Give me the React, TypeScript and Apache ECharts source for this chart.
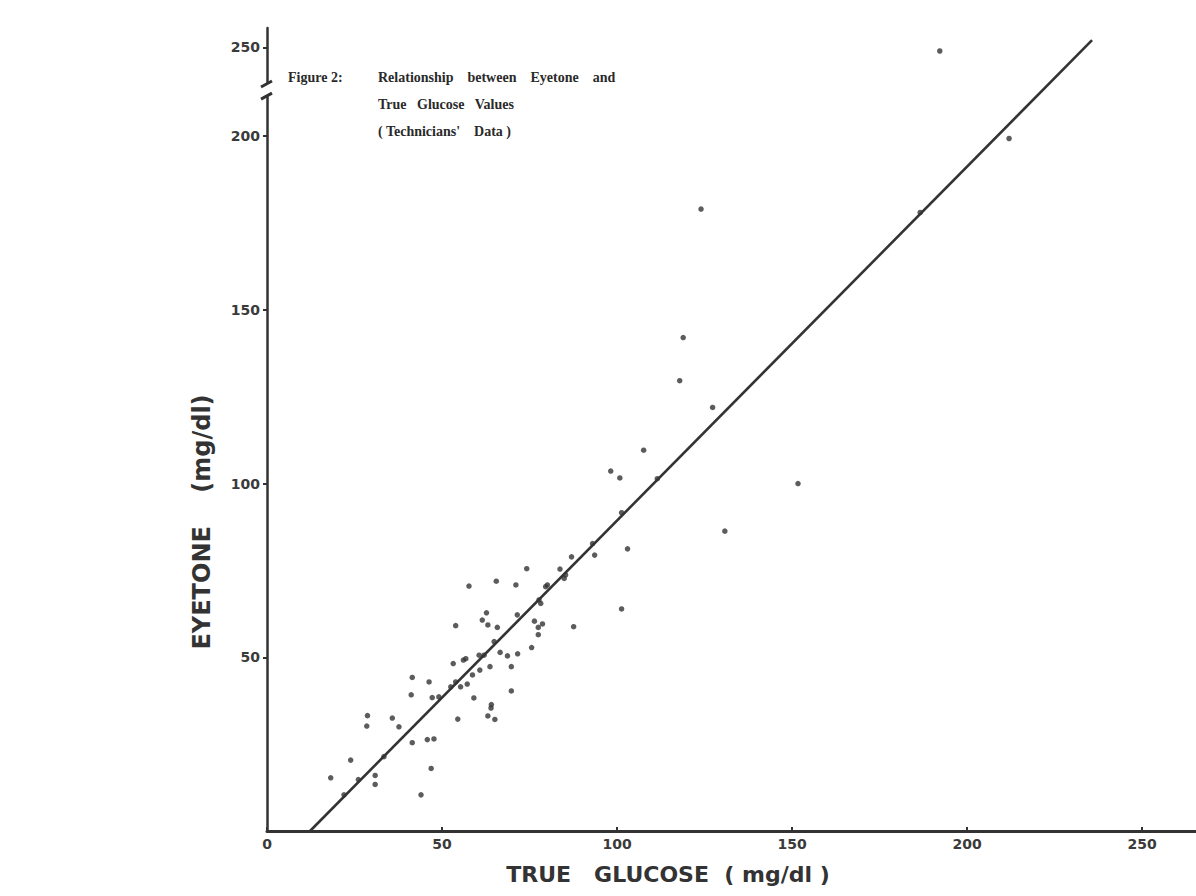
import React, { useEffect, useRef } from "react";
import * as echarts from "echarts";

// True glucose (mg/dl) vs Eyetone (mg/dl)
const POINTS: number[][] = [
  [18.2, 15.3], [23.9, 20.4], [28.7, 33.2], [28.5, 30.2], [30.9, 16.0], [30.9, 13.4],
  [35.8, 32.5], [37.7, 30.0], [41.5, 44.2], [41.2, 39.2], [41.5, 25.4], [45.8, 26.3],
  [47.7, 26.5], [46.9, 18.0], [44.0, 10.4], [46.3, 42.9], [47.2, 38.4], [53.2, 48.2],
  [54.5, 32.2], [53.9, 59.1], [57.7, 70.5], [59.1, 38.3], [60.8, 46.3], [62.7, 62.8],
  [61.5, 60.7], [63.1, 59.3], [63.7, 47.3], [64.1, 36.4], [64.0, 35.4], [63.1, 33.1],
  [65.1, 32.1], [65.5, 71.9], [65.8, 58.6], [66.6, 51.4], [68.7, 50.4], [69.8, 47.3],
  [69.8, 40.3], [71.1, 70.8], [71.6, 51.0], [74.2, 75.5], [75.6, 52.8], [76.4, 60.4],
  [78.7, 59.6], [77.5, 58.6], [77.5, 56.5], [83.7, 75.4], [87.0, 78.9], [87.6, 58.8],
  [93.6, 79.4], [56.8, 49.6], [56.1, 49.2], [55.3, 41.5], [57.2, 42.3], [58.7, 44.9],
  [60.6, 50.6], [62.0, 50.6], [52.5, 41.5], [53.9, 42.9], [49.1, 38.6], [26.1, 14.8],
  [22.0, 10.4], [33.4, 21.4], [64.9, 54.5], [71.5, 62.2], [77.7, 66.5], [78.2, 65.5],
  [80.1, 70.8], [79.6, 70.3], [85.3, 73.7], [84.9, 72.7], [93.0, 82.7],
  [118.9, 142.0], [117.9, 129.6], [127.3, 121.9], [107.6, 109.6], [98.2, 103.6],
  [100.8, 101.6], [151.7, 100.0], [130.8, 86.3], [103.0, 81.2], [101.3, 63.9],
  [111.5, 101.4], [101.3, 91.6], [124.0, 179.0], [192.2, 248.0], [212.0, 199.3],
  [186.6, 178.0],
];

// fitted regression line end points
const FIT_LINE: number[][] = [
  [12.3, 0],
  [235.7, 227.6],
];

const X_TICKS = [0, 50, 100, 150, 200, 250];
const Y_TICKS = [50, 100, 150, 200, 250];

const TITLE_LINES = [
  "Relationship\u00a0\u00a0\u00a0 between\u00a0\u00a0\u00a0 Eyetone\u00a0\u00a0\u00a0 and",
  "True\u00a0\u00a0 Glucose\u00a0\u00a0 Values",
  "( Technicians'\u00a0\u00a0\u00a0 Data )",
];

// broken y axis above 200
const BREAK_FROM = 200;
const BREAK_K = 0.51;
const brk = (v: number) => (v <= BREAK_FROM ? v : BREAK_FROM + (v - BREAK_FROM) * BREAK_K);
const unbrk = (v: number) => (v <= BREAK_FROM + 0.01 ? v : BREAK_FROM + (v - BREAK_FROM) / BREAK_K);

const INK = "#333333";

export default function App() {
  const ref = useRef<HTMLDivElement>(null);
  useEffect(() => {
    if (!ref.current) return;
    const chart = echarts.init(ref.current, null, { renderer: "svg" });
    const yLabelVals = Y_TICKS.map(brk);
    const labelFont = {
      fontFamily: "DejaVu Sans",
      fontSize: 14,
      fontWeight: "bold" as const,
      color: "#3a3a3a",
    };
    chart.setOption({
      animation: false,
      backgroundColor: "#ffffff",
      grid: { left: 267, right: 0, top: 28, bottom: 65 },
      xAxis: {
        type: "value",
        min: 0,
        max: 265.4,
        interval: 50,
        axisLine: { lineStyle: { color: INK, width: 3 } },
        axisTick: {
          show: true,
          inside: true,
          length: 4,
          customValues: X_TICKS,
          lineStyle: { color: INK, width: 2 },
        },
        splitLine: { show: false },
        axisLabel: {
          ...labelFont,
          margin: 6,
          customValues: X_TICKS,
        },
      },
      yAxis: {
        type: "value",
        min: 0,
        max: 231.1,
        axisLine: { lineStyle: { color: INK, width: 2.5 } },
        axisTick: {
          show: true,
          inside: false,
          length: 4,
          customValues: yLabelVals,
          lineStyle: { color: INK, width: 2 },
        },
        splitLine: { show: false },
        axisLabel: {
          ...labelFont,
          margin: 7,
          customValues: yLabelVals,
          formatter: (v: number) => String(Math.round(unbrk(v))),
        },
      },
      series: [
        {
          type: "line",
          data: FIT_LINE,
          showSymbol: false,
          lineStyle: { color: INK, width: 2.6 },
          z: 2,
        },
        {
          type: "scatter",
          data: POINTS.map((p) => [p[0], brk(p[1])]),
          symbol: "circle",
          symbolSize: 5.5,
          itemStyle: { color: INK },
          z: 3,
        },
      ],
    });

    const [ax, yTop] = chart.convertToPixel({ gridIndex: 0 }, [0, 215]) as number[];
    const [, yBot] = chart.convertToPixel({ gridIndex: 0 }, [0, 211.5]) as number[];
    const textStyleTitle = {
      fontFamily: "Liberation Serif",
      fontSize: 14,
      fontWeight: "bold",
      fill: "#2a2a2a",
    };
    const nameStyle = {
      fontFamily: "DejaVu Sans",
      fontSize: 22,
      fontWeight: "bold",
      fill: "#333333",
    };
    chart.setOption({
      graphic: [
        { type: "rect", shape: { x: ax - 6, y: yTop, width: 12, height: yBot - yTop }, style: { fill: "#ffffff" }, z: 10 },
        { type: "line", shape: { x1: ax - 6, y1: yTop + 3, x2: ax + 5, y2: yTop - 3 }, style: { stroke: INK, lineWidth: 3 }, z: 11 },
        { type: "line", shape: { x1: ax - 6, y1: yBot + 3, x2: ax + 5, y2: yBot - 3 }, style: { stroke: INK, lineWidth: 3 }, z: 11 },
        { type: "text", x: 288, y: 77, style: { ...textStyleTitle, text: "Figure 2:", verticalAlign: "middle" }, z: 12 },
        ...TITLE_LINES.map((t, i) => ({
          type: "text",
          x: 378,
          y: 77 + i * 27,
          style: { ...textStyleTitle, text: t, verticalAlign: "middle" },
          z: 12,
        })),
        {
          type: "text",
          x: 668,
          y: 874,
          style: { ...nameStyle, text: "TRUE\u00a0\u00a0 GLUCOSE\u00a0 ( mg/dl )", align: "center", verticalAlign: "middle" },
          z: 12,
        },
        {
          type: "text",
          x: 202,
          y: 522,
          rotation: Math.PI / 2,
          style: {
            ...nameStyle,
            fontSize: 24,
            text: "EYETONE\u00a0\u00a0\u00a0 (mg/dl)",
            align: "center",
            verticalAlign: "middle",
          },
          z: 12,
        },
      ],
    });
    return () => chart.dispose();
  }, []);
  return (
    <div
      ref={ref}
      style={{ position: "absolute", left: 0, top: 0, width: 1196, height: 896, background: "#fff" }}
    />
  );
}
